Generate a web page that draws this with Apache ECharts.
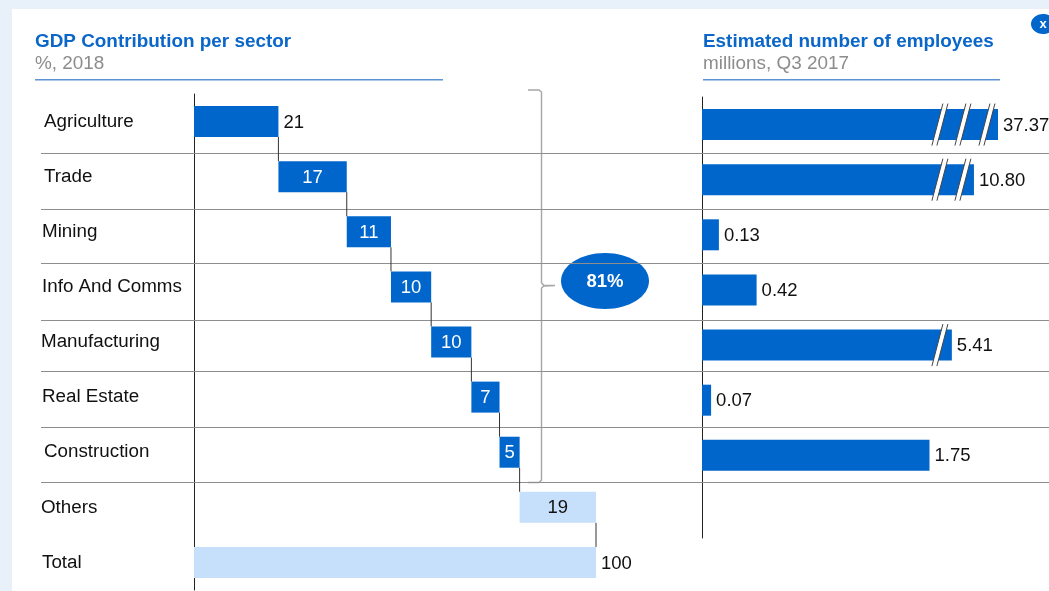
<!DOCTYPE html>
<html>
<head>
<meta charset="utf-8">
<title>GDP Contribution per sector</title>
<script src="https://cdn.jsdelivr.net/npm/echarts@6/dist/echarts.min.js"></script>
<style>
  html, body {margin: 0; padding: 0; background: #fff;}
  #chart {width: 1049px; height: 591px;}
</style>
</head>
<body>
<div id="chart"></div>
<script>
  // data
  const sectors = ['Agriculture', 'Trade', 'Mining', 'Info And Comms', 'Manufacturing', 'Real Estate', 'Construction', 'Others', 'Total'];
  const gdpShare = [21, 17, 11, 10, 10, 7, 5, 19, 100];
  const employees = [37.37, 10.80, 0.13, 0.42, 5.41, 0.07, 1.75];
  const bracketTotal = '81%';

  // the right axis is cut, each pair is one cut of the scale
  const axisCuts = [[1.83, 5.318], [5.495, 10.715], [10.9, 37.285]];
  const cutsPerRow = [3, 2, 0, 0, 1, 0, 0];

  const BLUE = '#0066cc';
  const LIGHT = '#c6dffa';
  const FONT = '"Liberation Sans", Arial, sans-serif';
  const labelNudge = [3, 3, 1, 1, 0, 1, 3, 0, 1]; // the row names do not line up exactly

  // waterfall offsets, last bar (Total) starts at zero again
  const baseline = [];
  let running = 0;
  gdpShare.forEach(function (v, i) {
    baseline.push(i === gdpShare.length - 1 ? 0 : running);
    running += v;
  });
  const connectors = gdpShare.slice(0, -1).map(function (v, i) {
    return [baseline[i] + v, i];
  });
  const slashes = [];
  cutsPerRow.forEach(function (n, row) {
    for (let i = 0; i < n; i++) slashes.push([axisCuts[i][0], row]);
  });

  function renderConnector(params, api) {
    const row = api.value(1);
    const from = api.coord([api.value(0), row]);
    const to = api.coord([api.value(0), row + 1]);
    return {
      type: 'line',
      shape: {x1: from[0], y1: from[1] + 15.5, x2: to[0], y2: to[1] - 15.5},
      style: {stroke: '#333', lineWidth: 1}
    };
  }

  function renderSlash(params, api) {
    const c = api.coord([api.value(0), api.value(1)]);
    const x = c[0], y = c[1];
    return {
      type: 'group',
      children: [
        {
          type: 'polygon',
          shape: {points: [[x - 8, y + 21], [x + 3, y - 21], [x + 8, y - 21], [x - 3, y + 21]]},
          style: {fill: '#fff'}
        },
        {type: 'line', shape: {x1: x - 8, y1: y + 21, x2: x + 3, y2: y - 21}, style: {stroke: '#444', lineWidth: 1}},
        {type: 'line', shape: {x1: x - 3, y1: y + 21, x2: x + 8, y2: y - 21}, style: {stroke: '#444', lineWidth: 1}}
      ]
    };
  }

  function headerText(x, y, text, bold) {
    return {
      type: 'text', x: x, y: y, z: 5,
      style: {
        text: text,
        fill: bold ? '#0a66c8' : '#8c8c8c',
        font: (bold ? 'bold ' : '') + '18.9px ' + FONT,
        verticalAlign: 'middle'
      }
    };
  }

  function hline(x1, x2, y, color) {
    return {type: 'line', z: 1, shape: {x1: x1, y1: y, x2: x2, y2: y}, style: {stroke: color, lineWidth: 1}};
  }

  function underline(x, width) {
    return {type: 'rect', z: 1, shape: {x: x, y: 79, width: width, height: 1.5}, style: {fill: '#5b93d3'}};
  }

  function initChart() {
    const chart = echarts.init(document.getElementById('chart'));
    const rowLines = [153.5, 209.5, 263.5, 320.5, 371.5, 427.5, 482.5].map(function (y) {
      return hline(41, 1049, y, '#8e8e8e');
    });
    let option = {
      animation: false,
      backgroundColor: '#fff',
      textStyle: {fontFamily: FONT},
      grid: [
        {left: 194, top: 94, width: 402, height: 496, outerBoundsMode: 'none'},
        {left: 702, top: 97, width: 296, height: 441, outerBoundsMode: 'none'}
      ],
      xAxis: [
        {gridIndex: 0, type: 'value', min: 0, max: 100, show: false},
        {
          gridIndex: 1, type: 'value', min: 0, max: 37.37, show: false,
          breaks: axisCuts.map(function (c) { return {start: c[0], end: c[1], gap: 0}; }),
          breakArea: {show: false}
        }
      ],
      yAxis: [
        {
          gridIndex: 0, type: 'category', inverse: true,
          data: sectors.map(function (name, i) {
            return {
              value: name,
              textStyle: {
                align: 'left', color: '#111', fontSize: 18.8, fontFamily: FONT,
                padding: [3, 0, 0, labelNudge[i]]
              }
            };
          }),
          axisTick: {show: false},
          axisLine: {lineStyle: {color: '#222', width: 1}},
          axisLabel: {align: 'left', margin: 153, color: '#111', fontSize: 18.8, fontFamily: FONT}
        },
        {
          gridIndex: 1, type: 'category', inverse: true, data: sectors.slice(0, 8),
          axisTick: {show: false},
          axisLabel: {show: false},
          axisLine: {lineStyle: {color: '#222', width: 1}}
        }
      ],
      series: [
        {
          name: 'base', type: 'bar', stack: 'gdp', barWidth: 31, silent: true,
          xAxisIndex: 0, yAxisIndex: 0,
          itemStyle: {color: 'transparent'},
          data: baseline
        },
        {
          name: 'GDP', type: 'bar', stack: 'gdp', barWidth: 31,
          xAxisIndex: 0, yAxisIndex: 0,
          data: gdpShare.map(function (v, i) {
            const pale = i >= gdpShare.length - 2;
            const outside = i === 0 || i === gdpShare.length - 1;
            return {
              value: v,
              itemStyle: {color: pale ? LIGHT : BLUE},
              label: {
                show: true,
                position: outside ? 'right' : 'inside',
                distance: 5,
                offset: [0, 1],
                color: outside || pale ? '#111' : '#fff',
                fontSize: 18.5,
                fontFamily: FONT
              }
            };
          })
        },
        {
          name: 'connectors', type: 'custom', silent: true,
          xAxisIndex: 0, yAxisIndex: 0, z: 1,
          renderItem: renderConnector,
          data: connectors
        },
        {
          name: 'Employees', type: 'bar', barWidth: 31,
          xAxisIndex: 1, yAxisIndex: 1,
          itemStyle: {color: BLUE},
          label: {
            show: true, position: 'right', distance: 5, offset: [0, 1], color: '#111', fontSize: 18.5, fontFamily: FONT,
            formatter: function (p) { return p.value.toFixed(2); }
          },
          data: employees
        },
        {
          name: 'cuts', type: 'custom', silent: true, clip: false,
          xAxisIndex: 1, yAxisIndex: 1, z: 5,
          renderItem: renderSlash,
          data: slashes
        }
      ],
      graphic: [
        // page frame
        {type: 'rect', z: 0, shape: {x: 0, y: 0, width: 1049, height: 9}, style: {fill: '#e8f1f9'}},
        {type: 'rect', z: 0, shape: {x: 0, y: 0, width: 12, height: 591}, style: {fill: '#e8f1f9'}},
        // close button
        {type: 'ellipse', z: 5, shape: {cx: 1043, cy: 24, rx: 12, ry: 10}, style: {fill: BLUE}},
        {
          type: 'text', x: 1043, y: 24, z: 6,
          style: {text: 'x', fill: '#fff', font: 'bold 13px ' + FONT, align: 'center', verticalAlign: 'middle'}
        },
        headerText(35, 42, 'GDP Contribution per sector', true),
        headerText(35, 64, '%, 2018', false),
        underline(35, 408),
        headerText(703, 42, 'Estimated number of employees', true),
        headerText(703, 64, 'millions, Q3 2017', false),
        underline(703, 297),
        // bracket round the first seven sectors
        {
          type: 'polyline', z: 1,
          shape: {points: [[528, 90], [539, 90], [541.5, 92], [541.5, 283], [544, 285.5], [555, 285.5], [544, 286], [541.5, 288], [541.5, 480], [539, 482.5], [528, 482.5]]},
          style: {stroke: '#a6a6a6', lineWidth: 1.4, fill: null}
        },
        {type: 'ellipse', z: 0, shape: {cx: 605, cy: 281, rx: 44, ry: 28}, style: {fill: BLUE}},
        {
          type: 'text', x: 605, y: 282, z: 6,
          style: {text: bracketTotal, fill: '#fff', font: 'bold 18.5px ' + FONT, align: 'center', verticalAlign: 'middle'}
        }
      ].concat(rowLines)
    };
    chart.setOption(option);
  }

  initChart();
</script>
</body>
</html>
